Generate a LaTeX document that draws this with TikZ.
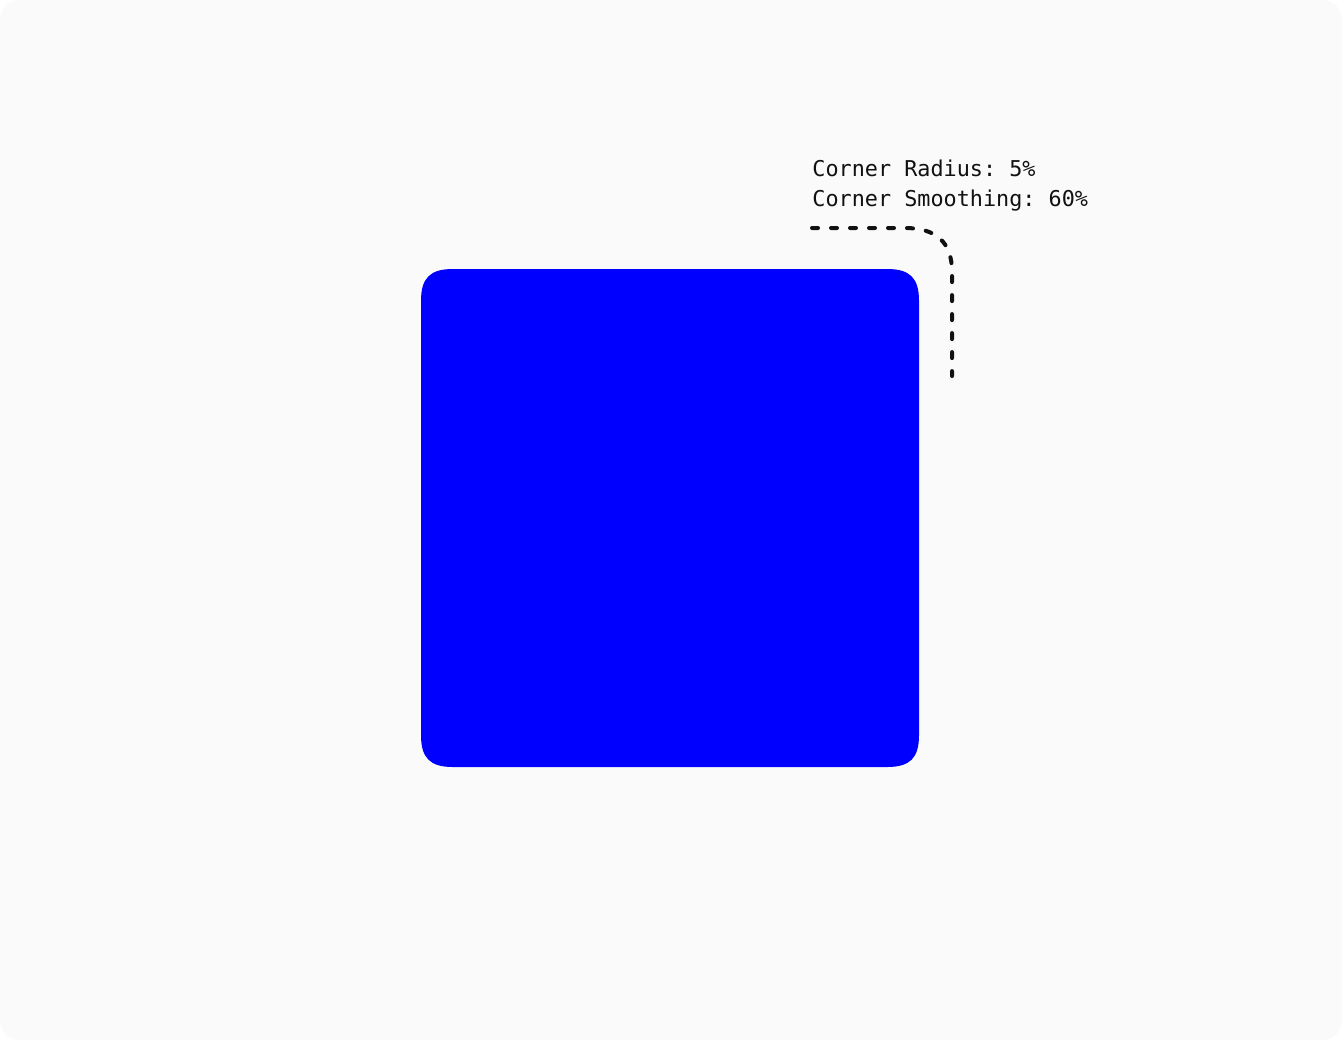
\documentclass[tikz,border=0pt]{standalone}
\usepackage{fontspec}
\setmonofont{DejaVu Sans Mono}
\definecolor{canvas}{HTML}{FAFAFA}
\definecolor{sqblue}{HTML}{0000FF}
\definecolor{ink}{HTML}{111111}
\tikzset{
	lbl/.style={anchor=base west, inner sep=0pt, text=ink, font=\ttfamily\fontsize{10.9}{15}\selectfont},
	guide/.style={draw=ink, line width=2pt, line cap=round, dash pattern=on 3pt off 6.5pt}
}
\begin{document}
\begin{tikzpicture}[x=.5pt, y=-.5pt, line join=round]
	\def\L{421}	\def\R{919}	\def\T{269}	\def\B{767}	\def\e{32}	\def\c{9}
	\useasboundingbox (0,0) rectangle (1342,1040);
	\fill[white] (0,0) rectangle (1342,1040);
	\fill[canvas, rounded corners=10pt] (0,0) rectangle (1342,1040);
	% smoothed square
	\fill[sqblue] ({\L+\e},\T) -- ({\R-\e},\T) .. controls ({\R-\c},\T) and (\R,{\T+\c}) .. (\R,{\T+\e})
		-- (\R,{\B-\e}) .. controls (\R,{\B-\c}) and ({\R-\c},\B) .. ({\R-\e},\B)
		-- ({\L+\e},\B) .. controls ({\L+\c},\B) and (\L,{\B-\c}) .. (\L,{\B-\e})
		-- (\L,{\T+\e}) .. controls (\L,{\T+\c}) and ({\L+\c},\T) .. cycle;
	\node[lbl] (radius) at (812,176) {Corner Radius: 5\%};
	\node[lbl] (smoothing) at (812,206) {Corner Smoothing: 60\%};
	\coordinate (gstart) at (812,228);
	\coordinate (gend) at (952,376);
	\draw[guide] (gstart) -- (905,228) .. controls (936,228) and (952,242) .. (952,272) -- (gend);
\end{tikzpicture}
\end{document}
